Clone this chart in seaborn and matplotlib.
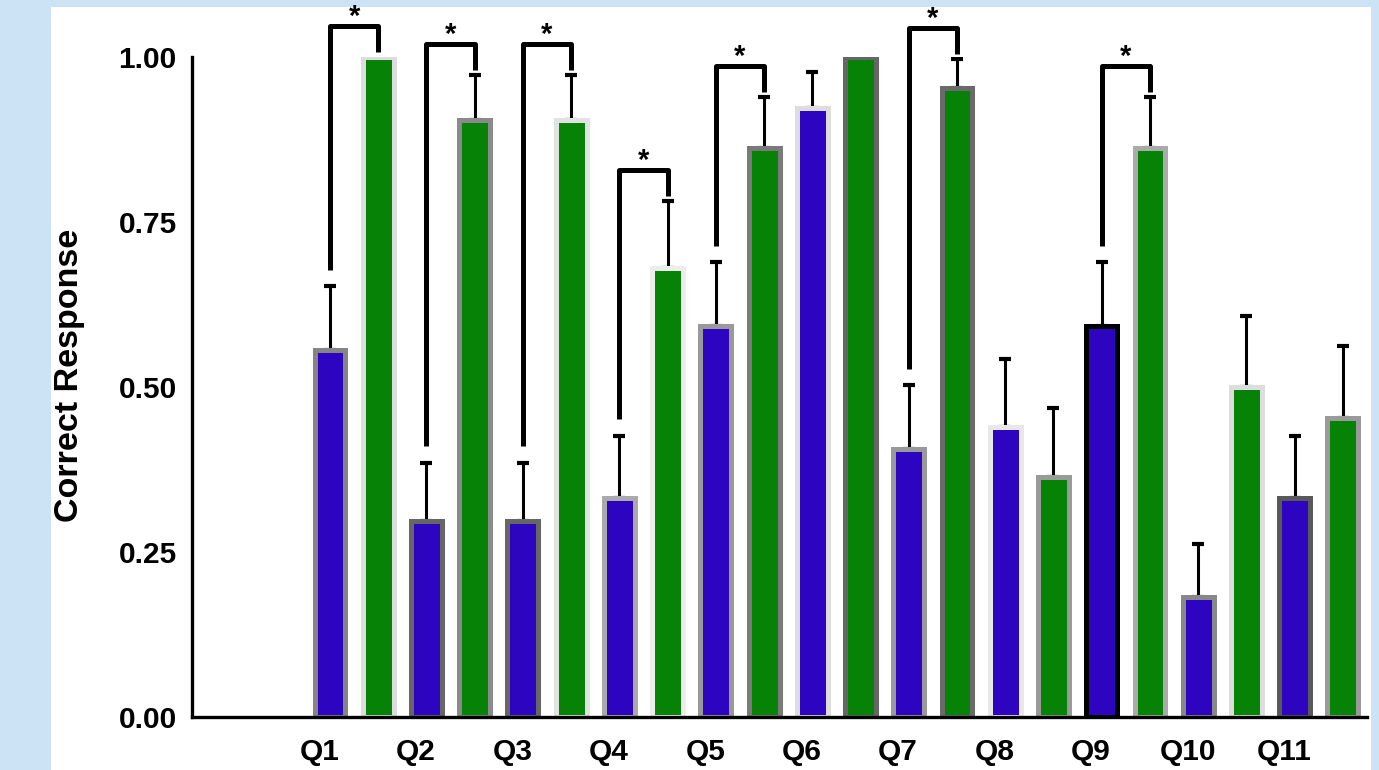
import numpy as np
import pandas as pd
import seaborn as sns
import matplotlib.pyplot as plt
from matplotlib.patches import Rectangle

sns.set_style("white")
plt.rcParams['font.family'] = ['Liberation Sans', 'DejaVu Sans']
plt.rcParams['font.weight'] = 'bold'
plt.rcParams['text.color'] = 'black'
plt.rcParams['axes.labelcolor'] = 'black'

# data
questions = ["Q1", "Q2", "Q3", "Q4", "Q5", "Q6", "Q7", "Q8", "Q9", "Q10", "Q11"]
blue_vals = [0.556, 0.297, 0.297, 0.332, 0.592, 0.923, 0.406, 0.440, 0.592, 0.182, 0.332]
blue_err = [0.097, 0.088, 0.088, 0.094, 0.097, 0.054, 0.097, 0.102, 0.097, 0.080, 0.094]
green_vals = [1.000, 0.905, 0.905, 0.680, 0.862, 1.000, 0.953, 0.364, 0.862, 0.500, 0.453]
green_err = [0.000, 0.068, 0.068, 0.102, 0.077, 0.000, 0.044, 0.104, 0.077, 0.108, 0.109]
significant = ["Q1", "Q2", "Q3", "Q4", "Q5", "Q7", "Q9"]

# bar outline shades as they appear in the original
blue_edges = ['#858585', '#666666', '#666666', '#aaaaaa', '#999999', '#dddddd',
              '#999999', '#e8e8e8', '#000000', '#888888', '#595959']
green_edges = ['#dcdcdc', '#8a8a8a', '#e2e2e2', '#ededed', '#7a7a7a', '#666666',
               '#6a6a6a', '#9a9a9a', '#aaaaaa', '#dddddd', '#9a9a9a']

df = pd.DataFrame({
    "question": questions * 2,
    "group": ["A"] * len(questions) + ["B"] * len(questions),
    "value": blue_vals + green_vals,
})

fig = plt.figure(figsize=(13.79, 7.70), dpi=100, facecolor='#cce3f5')
# white panel behind the plot
fig.patches.append(Rectangle((51 / 1379, 0), (1371 - 51) / 1379, 1 - 7 / 770,
                             transform=fig.transFigure, facecolor='white',
                             edgecolor='none', zorder=-10))
ax = fig.add_axes([192 / 1379, 53 / 770, 1175 / 1379, 660 / 770])
ax.set_zorder(5)
ax.set_facecolor((0, 0, 0, 0))

sns.barplot(data=df, x="question", y="value", hue="group", order=questions,
            palette={"A": "#2d05c0", "B": "#068206"}, saturation=1, errorbar=None,
            width=1.0, gap=0.36, linewidth=3.6, legend=False, ax=ax)

blue_bars = ax.containers[0]
green_bars = ax.containers[1]
for bar, ec in zip(blue_bars, blue_edges):
    bar.set_edgecolor(ec)
for bar, ec in zip(green_bars, green_edges):
    bar.set_edgecolor(ec)

bx = np.array([b.get_x() + b.get_width() / 2 for b in blue_bars])
gx = np.array([b.get_x() + b.get_width() / 2 for b in green_bars])
bv, be = np.array(blue_vals), np.array(blue_err)
gv, ge = np.array(green_vals), np.array(green_err)

ax.errorbar(bx, bv, yerr=[np.zeros_like(be), be], fmt='none', ecolor='black',
            elinewidth=2.2, capsize=4.5, capthick=3, zorder=0.5)
mask = ge > 0
ax.errorbar(gx[mask], gv[mask], yerr=[np.zeros(mask.sum()), ge[mask]], fmt='none',
            ecolor='black', elinewidth=2.2, capsize=4.5, capthick=3, zorder=0.5)

# significance brackets
for q in significant:
    i = questions.index(q)
    left_bottom = bv[i] + be[i] + 0.025
    right_top = gv[i] + ge[i]
    top = right_top + 0.047
    ax.plot([bx[i], bx[i], gx[i], gx[i]], [left_bottom, top, top, right_top + 0.008],
            color='black', lw=3.6, solid_joinstyle='round', solid_capstyle='butt',
            clip_on=False, zorder=4)
    ax.text((bx[i] + gx[i]) / 2, top + 0.014, "*", ha='center', va='center',
            fontsize=21, fontweight='bold', color='black', clip_on=False)

ax.set_xlim(-1.68, 10.5)
ax.set_ylim(0, 1.0)
ax.set_yticks([0, 0.25, 0.5, 0.75, 1.0])
ax.set_yticklabels(["0.00", "0.25", "0.50", "0.75", "1.00"])
ax.set_xticks(np.arange(len(questions)) - 0.36)
ax.set_xticklabels(questions)
ax.set_xlabel("")
ax.set_ylabel("Correct Response", fontsize=24.5, fontweight='bold', color='black',
              va='center')
ax.yaxis.set_label_coords((70 - 192) / 1175, 0.518)

sns.despine(ax=ax)
for side in ["left", "bottom"]:
    ax.spines[side].set_linewidth(2.4)
    ax.spines[side].set_color('black')
ax.tick_params(axis='both', which='major', direction='out', length=6, width=2.4,
               color='black', labelsize=21.5, labelcolor='black')
ax.tick_params(axis='y', pad=5)
ax.tick_params(axis='x', pad=9)
for lab in ax.get_xticklabels() + ax.get_yticklabels():
    lab.set_fontweight('bold')

fig.savefig("out.png", dpi=100, facecolor=fig.get_facecolor())
